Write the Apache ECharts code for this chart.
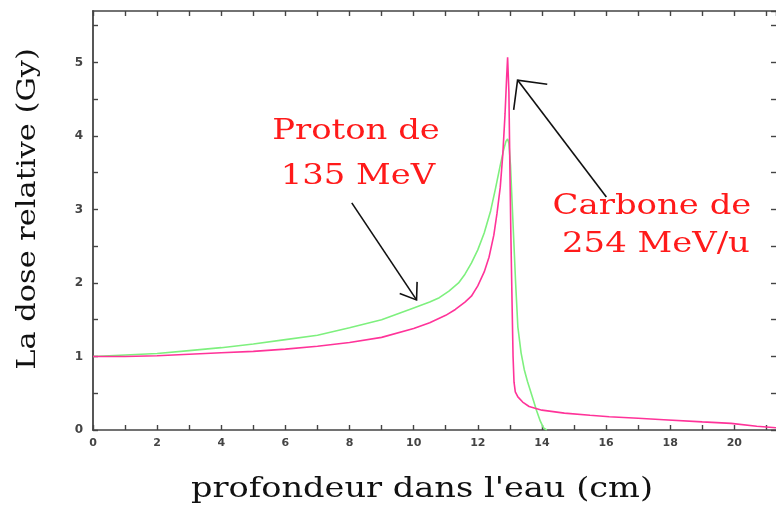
<!DOCTYPE html>
<html>
<head>
<meta charset="utf-8">
<script src="https://cdn.jsdelivr.net/npm/echarts@6/dist/echarts.min.js"></script>
<style>html,body{margin:0;padding:0;background:#fff}#c{width:776px;height:506px}</style>
</head>
<body>
<div id="c"></div>
<script>
// Proton (green) depth-dose
var protonDepth = [0, 1, 2, 3, 4, 5, 6, 7, 8, 9, 10, 10.5, 10.8, 11.1, 11.4, 11.6, 11.8, 12.0, 12.2, 12.4, 12.55, 12.7, 12.8, 12.88, 12.93, 12.97, 13.02, 13.1, 13.18, 13.25, 13.35, 13.45, 13.55, 13.68, 13.83, 13.95, 14.05, 14.15];
var protonDose  = [1.00, 1.02, 1.04, 1.08, 1.12, 1.17, 1.23, 1.29, 1.39, 1.50, 1.66, 1.74, 1.80, 1.89, 2.00, 2.12, 2.27, 2.45, 2.68, 2.98, 3.28, 3.60, 3.80, 3.93, 3.96, 3.90, 3.60, 2.80, 2.00, 1.40, 1.05, 0.82, 0.66, 0.48, 0.27, 0.12, 0.03, 0.0];
// Carbon (pink) depth-dose
var carbonDepth = [0, 1, 2, 3, 4, 5, 6, 7, 8, 9, 10, 10.5, 11, 11.3, 11.6, 11.8, 12.0, 12.2, 12.35, 12.5, 12.6, 12.7, 12.78, 12.85, 12.9, 12.93, 12.97, 13.0, 13.03, 13.07, 13.1, 13.13, 13.17, 13.25, 13.4, 13.6, 14.0, 14.7, 15.5, 16.1, 17.0, 17.8, 19.0, 19.9, 20.7, 21.3];
var carbonDose  = [1.00, 1.00, 1.01, 1.03, 1.05, 1.07, 1.10, 1.14, 1.19, 1.26, 1.38, 1.46, 1.56, 1.64, 1.74, 1.82, 1.96, 2.15, 2.35, 2.65, 2.95, 3.30, 3.75, 4.30, 4.80, 5.07, 4.60, 3.60, 2.70, 1.70, 1.00, 0.65, 0.52, 0.45, 0.38, 0.32, 0.27, 0.23, 0.20, 0.18, 0.16, 0.14, 0.11, 0.09, 0.05, 0.03];

var xLabelTicks = [0, 2, 4, 6, 8, 10, 12, 14, 16, 18, 20];
var yLabelTicks = [0, 1, 2, 3, 4, 5];

var xTitle = "profondeur dans l'eau (cm)";
var yTitle = "La dose relative (Gy)";
var protonText = ["Proton de", "135 MeV"];
var carbonText = ["Carbone de", "254 MeV/u"];
// arrows in data units: [fromX, fromY, toX, toY]
var protonArrow = [8.07, 3.09, 10.09, 1.77];
var carbonArrow = [16.01, 3.17, 13.24, 4.76];

function pairs(xs, ys) { return xs.map(function (x, i) { return [x, ys[i]]; }); }

var chart = echarts.init(document.getElementById('c'), null, { renderer: 'canvas' });
var axisCol = '#444';
var serif = '"DejaVu Serif", "Liberation Serif", serif';

function xAx(pos, labels) {
  return {
    type: 'value', position: pos, min: 0, max: 21.3, interval: 1,
    axisLine: { onZero: false, lineStyle: { color: axisCol, width: 1.6 } },
    axisTick: { inside: true, length: 5, lineStyle: { color: axisCol, width: 1.4 } },
    axisLabel: {
      show: labels, margin: 8, color: '#444', fontSize: 11, fontWeight: 'bold', fontFamily: 'DejaVu Sans',
      showMaxLabel: false,
      formatter: function (v) { return xLabelTicks.indexOf(v) >= 0 ? String(v) : ''; }
    },
    splitLine: { show: false }
  };
}
function yAx(pos, labels) {
  return {
    type: 'value', position: pos, min: 0, max: 5.7, interval: 0.5,
    axisLine: { show: labels, onZero: false, lineStyle: { color: axisCol, width: 1.8 } },
    axisTick: { inside: true, length: 5, lineStyle: { color: axisCol, width: 1.4 } },
    axisLabel: {
      show: labels, margin: 10, color: '#444', fontSize: 12, fontWeight: 'bold', fontFamily: 'DejaVu Sans',
      showMaxLabel: false,
      formatter: function (v) { return yLabelTicks.indexOf(v) >= 0 ? String(v) : ''; }
    },
    splitLine: { show: false }
  };
}

chart.setOption({
  animation: false,
  backgroundColor: '#fff',
  grid: { left: 93, right: -1, top: 11, bottom: 76, containLabel: false },
  xAxis: [xAx('bottom', true), xAx('top', false)],
  yAxis: [yAx('left', true), yAx('right', false)],
  series: [
    { type: 'line', name: 'proton', data: pairs(protonDepth, protonDose), showSymbol: false, symbol: 'none',
      lineStyle: { color: '#7ef07e', width: 1.6 }, z: 2 },
    { type: 'line', name: 'carbon', data: pairs(carbonDepth, carbonDose), showSymbol: false, symbol: 'none',
      lineStyle: { color: '#ff3399', width: 1.6 }, z: 3 }
  ]
});

function arrowGraphics(a, headLen, headAng) {
  var p0 = chart.convertToPixel({ gridIndex: 0 }, [a[0], a[1]]);
  var p1 = chart.convertToPixel({ gridIndex: 0 }, [a[2], a[3]]);
  var ang = Math.atan2(p0[1] - p1[1], p0[0] - p1[0]);
  var h1 = [p1[0] + headLen * Math.cos(ang + headAng), p1[1] + headLen * Math.sin(ang + headAng)];
  var h2 = [p1[0] + headLen * Math.cos(ang - headAng), p1[1] + headLen * Math.sin(ang - headAng)];
  var st = { stroke: '#111', lineWidth: 1.6, fill: null };
  return [
    { type: 'line', shape: { x1: p0[0], y1: p0[1], x2: p1[0], y2: p1[1] }, style: st, z: 10 },
    { type: 'polyline', shape: { points: [h1, p1, h2] }, style: st, z: 10 }
  ];
}

function label(txt, x, y, size, sx, color, rot) {
  return { type: 'text', x: x, y: y, scaleX: sx, rotation: rot || 0,
    style: { text: txt, fill: color, font: size + 'px ' + serif, align: 'center', verticalAlign: 'middle' }, z: 10 };
}

var g = [];
g = g.concat(arrowGraphics(protonArrow, 18, 0.62));
g = g.concat(arrowGraphics(carbonArrow, 30, 0.78));
g.push(label(protonText[0], 356, 132, 28, 1.21, '#ff1a1a'));
g.push(label(protonText[1], 358, 177, 28, 1.21, '#ff1a1a'));
g.push(label(carbonText[0], 652, 207, 28, 1.21, '#ff1a1a'));
g.push(label(carbonText[1], 656, 245, 28, 1.21, '#ff1a1a'));
g.push(label(xTitle, 422, 490, 28, 1.2, '#111'));
g.push(label(yTitle, 28, 209, 26, 1.17, '#111', Math.PI / 2));
chart.setOption({ graphic: g });
</script>
</body>
</html>
